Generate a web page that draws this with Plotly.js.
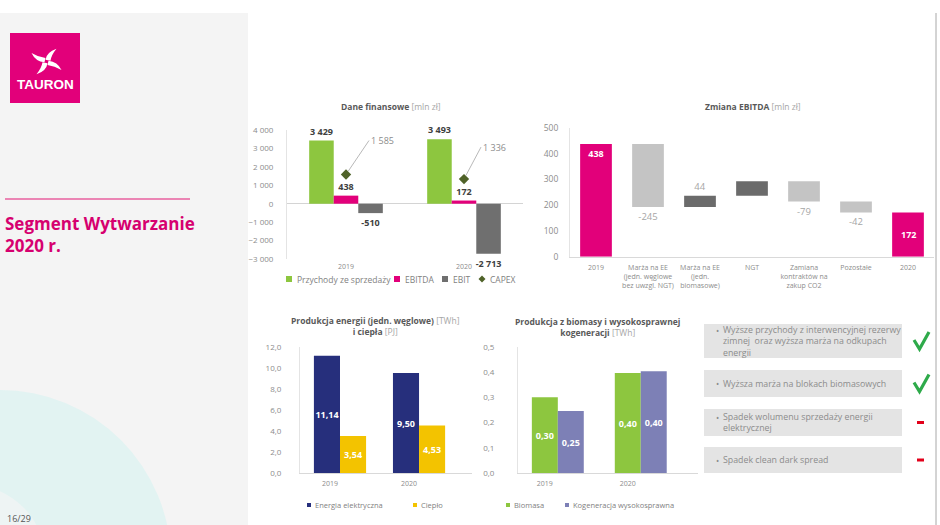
<!DOCTYPE html>
<html><head><meta charset="utf-8">
<script src="https://cdn.plot.ly/plotly-3.0.1.min.js"></script>
<style>html,body{margin:0;padding:0;background:#fff}#chart{width:940px;height:525px}</style>
</head><body><div id="chart"></div>
<script>
// ---------- DATA ----------
const finYears = ['2019', '2020'];
const finSeries = ['Przychody ze sprzedaży', 'EBITDA', 'EBIT'];
const finLegend = ['Przychody ze sprzedaży', 'EBITDA', 'EBIT', 'CAPEX'];
const revenue = [3429, 3493];
const ebitda = [438, 172];
const ebit = [-510, -2713];
const capex = [1585, 1336];

const ebitdaCats = ['2019', 'Marża na EE<br>(jedn. węglowe<br>bez uwzgl. NGT)', 'Marża na EE<br>(jedn.<br>biomasowe)', 'NGT', 'Zamiana<br>kontraktów na<br>zakup CO2', 'Pozostałe', '2020'];
const ebitdaMeasures = ['absolute', 'relative', 'relative', 'relative', 'relative', 'relative', 'total'];
const ebitdaValues = [438, -245, 44, 56, -79, -42, 172];
const ebitdaShowLabel = [true, true, true, false, true, true, true];

const prodYears = ['2019', '2020'];
const prodSeries = ['Energia elektryczna', 'Ciepło'];
const energy = [11.14, 9.50];
const heat = [3.54, 4.53];

const bioYears = ['2019', '2020'];
const bioSeries = ['Biomasa', 'Kogeneracja wysokosprawna'];
const biomass = [0.30, 0.396];
const cogen = [0.246, 0.403];

const notes = [
  'Wyższe przychody z interwencyjnej rezerwy<br>zimnej  oraz wyższa marża na odkupach<br>energii',
  'Wyższa marża na blokach biomasowych',
  'Spadek wolumenu sprzedaży energii<br>elektrycznej',
  'Spadek clean dark spread'
];
const noteSigns = ['plus', 'plus', 'minus', 'minus'];

// ---------- HELPERS ----------
const W = 940, H = 525;
const X = p => p / W, Y = p => 1 - p / H;
const shapes = [], annotations = [];
const FONT = 'Open Sans';
function rect(x0, y0, x1, y1, fill, layer) {
  shapes.push({type: 'rect', xref: 'paper', yref: 'paper', x0: X(x0), x1: X(x1), y0: Y(y1), y1: Y(y0),
    fillcolor: fill, line: {width: 0}, layer: layer || 'below'});
}
function circle(cx, cy, r, fill) {
  shapes.push({type: 'circle', xref: 'paper', yref: 'paper', x0: X(cx - r), x1: X(cx + r), y0: Y(cy + r), y1: Y(cy - r),
    fillcolor: fill, line: {width: 0}, layer: 'below'});
}
function line(x0, y0, x1, y1, color, width) {
  shapes.push({type: 'line', xref: 'paper', yref: 'paper', x0: X(x0), x1: X(x1), y0: Y(y0), y1: Y(y1),
    line: {color: color, width: width}, layer: 'above'});
}
function pathShape(d, fill, lineColor, lineWidth) {
  shapes.push({type: 'path', xref: 'paper', yref: 'paper', path: d, fillcolor: fill,
    line: {color: lineColor || 'rgba(0,0,0,0)', width: lineWidth || 0}, layer: 'above'});
}
function P(x, y) { return X(x).toFixed(5) + ',' + Y(y).toFixed(5); }
function text(x, y, t, size, color, xanchor, extra) {
  annotations.push(Object.assign({xref: 'paper', yref: 'paper', x: X(x), y: Y(y), text: t, showarrow: false,
    xanchor: xanchor || 'center', yanchor: 'middle', align: xanchor === 'left' ? 'left' : 'center',
    font: {family: FONT, size: size, color: color}}, extra || {}));
}
function fmtSpace(v) { return String(v).replace(/\B(?=(\d{3})+(?!\d))/g, ' '); }

// ---------- BACKGROUND / DECOR ----------
rect(0, 13, 248, 525, '#f4f4f4');
circle(0, 561, 171, '#e2f3f2');
circle(-30, 560, 75, '#eef4f4');
line(936, 13, 936, 525, '#a8a8a8', 1);
// logo
rect(10, 33, 80, 103, '#e2007a', 'above');
const cx = 46.5, cy = 61.5;
const blade = [[-1, -2], [0, -11], [10, -15], [5, -8], [4, -1]];
for (let k = 0; k < 4; k++) {
  const a = k * Math.PI / 2, c = Math.cos(a), s = Math.sin(a);
  const q = blade.map(([x, y]) => [cx + x * c - y * s, cy + (x * s + y * c) * 0.85]);
  const d = 'M' + P(...q[0]) + ' Q' + P(...q[1]) + ' ' + P(...q[2]) + ' Q' + P(...q[3]) + ' ' + P(...q[4]) + ' Z';
  pathShape(d, '#ffffff');
}
text(45, 85, '<b>TAURON</b>', 13.5, '#ffffff', 'center', {font: {family: 'Liberation Sans', size: 13.5, color: '#ffffff'}});
line(5, 199, 190, 199, '#e8609f', 1.3);
text(3, 234, '<b>Segment Wytwarzanie<br>2020 r.</b>', 17, '#d6006f', 'left');
text(5, 518, '16/29', 9, '#555555', 'left');

// ---------- TITLES ----------
const tCol = '#595959', bCol = '#a6a6a6';
text(391, 107, '<b>Dane finansowe</b> <span style="color:' + bCol + '">[mln zł]</span>', 8.5, tCol);
text(753, 106, '<b>Zmiana EBITDA</b> <span style="color:' + bCol + '">[mln zł]</span>', 8.5, tCol);
text(375, 325.5, '<b>Produkcja energii (jedn. węglowe)</b> <span style="color:' + bCol + '">[TWh]</span><br><b>i ciepła</b> <span style="color:' + bCol + '">[PJ]</span>', 8.5, tCol);
text(597, 326.5, '<b>Produkcja z biomasy i wysokosprawnej</b><br><b>kogeneracji</b> <span style="color:' + bCol + '">[TWh]</span>', 8.5, tCol);

// ---------- TRACES ----------
const traces = [];
const finColors = ['#8dc63f', '#e2007a', '#6f6f6f'];
const finVals = [revenue, ebitda, ebit];
const w1 = 0.208;
finVals.forEach((v, i) => traces.push({
  type: 'bar', x: finYears, y: v, name: finSeries[i], xaxis: 'x', yaxis: 'y',
  width: w1, offset: -1.5 * w1 + i * w1, marker: {color: finColors[i]},
  texttemplate: '<b>%{y:,.0f}</b>', textposition: 'outside', textangle: 0,
  textfont: {family: FONT, size: 9, color: '#404040'}, constraintext: 'none', cliponaxis: false
}));
const capexColor = '#4f6228';
traces.push({type: 'scatter', mode: 'markers', x: finYears, y: capex, name: 'CAPEX', xaxis: 'x', yaxis: 'y',
  marker: {symbol: 'diamond', size: 8, color: capexColor}, cliponaxis: false});
const capexOff = [[23, -34], [17, -32]];
capex.forEach((v, i) => annotations.push({xref: 'x', yref: 'y', x: i, y: v, text: fmtSpace(v),
  showarrow: true, arrowhead: 0, arrowwidth: 0.8, arrowcolor: '#a6a6a6', standoff: 4,
  ax: capexOff[i][0], ay: capexOff[i][1], xanchor: 'left', yanchor: 'middle',
  font: {family: FONT, size: 9, color: '#8c8c8c'}}));

// waterfall
const finalEbitda = ebitdaValues.slice(0, -1).reduce((a, b) => a + b, 0);
traces.push({
  type: 'waterfall', x: ebitdaCats, y: ebitdaValues, measure: ebitdaMeasures, xaxis: 'x2', yaxis: 'y2',
  texttemplate: ebitdaMeasures.map((m, i) => !ebitdaShowLabel[i] || m === 'total' ? '' : (m === 'absolute' ? '<b>%{final:.0f}</b>' : '%{delta:.0f}')),
  textposition: ebitdaMeasures.map((m, i) => !ebitdaShowLabel[i] || m === 'total' ? 'none' : (m === 'absolute' ? 'inside' : 'outside')),
  insidetextanchor: 'end', textangle: 0,
  insidetextfont: {family: FONT, size: 9, color: '#ffffff'},
  outsidetextfont: {family: FONT, size: 9.5, color: '#a6a6a6'},
  increasing: {marker: {color: '#6b6b6b'}}, decreasing: {marker: {color: '#c4c4c4'}}, totals: {marker: {color: '#e2007a'}},
  connector: {visible: false}, constraintext: 'none', cliponaxis: false
});
annotations.push({xref: 'x2', yref: 'y2', x: ebitdaCats.length - 1, y: finalEbitda / 2,
  text: '<b>' + finalEbitda + '</b>', showarrow: false, font: {family: FONT, size: 9, color: '#ffffff'}});

// production
const prodColors = ['#262f7c', '#f3c300'];
const w3 = 0.33;
[energy, heat].forEach((v, i) => traces.push({
  type: 'bar', x: prodYears, y: v, name: prodSeries[i], xaxis: 'x3', yaxis: 'y3',
  width: w3, offset: -w3 + i * w3, marker: {color: prodColors[i]},
  texttemplate: '<b>%{y:.2f}</b>', textposition: 'inside', insidetextanchor: 'middle', textangle: 0,
  textfont: {family: FONT, size: 9, color: '#ffffff'}, constraintext: 'none'
}));
// biomass
const bioColors = ['#8dc63f', '#7d80b6'];
const w4 = 0.313;
[biomass, cogen].forEach((v, i) => traces.push({
  type: 'bar', x: bioYears, y: v, name: bioSeries[i], xaxis: 'x4', yaxis: 'y4',
  width: w4, offset: -w4 + i * w4, marker: {color: bioColors[i]},
  texttemplate: '<b>%{y:.2f}</b>', textposition: 'inside', insidetextanchor: 'middle', textangle: 0,
  textfont: {family: FONT, size: 9, color: '#ffffff'}, constraintext: 'none'
}));

// ---------- LEGENDS (manual, compact) ----------
const legCol = '#7f7f7f';
function legSquare(x, y, s, color) { rect(x - s / 2, y - s / 2, x + s / 2, y + s / 2, color, 'above'); }
const leg1x = [289, 397, 445, 482];
finLegend.forEach((n, i) => {
  if (i < 3) legSquare(leg1x[i], 279, 6, finColors[i]);
  else pathShape('M' + P(leg1x[i], 275.5) + ' L' + P(leg1x[i] + 3.5, 279) + ' L' + P(leg1x[i], 282.5) + ' L' + P(leg1x[i] - 3.5, 279) + ' Z', capexColor);
  text(leg1x[i] + 6, 279, n, 8.5, legCol, 'left');
});
const leg3x = [309, 415];
prodSeries.forEach((n, i) => { legSquare(leg3x[i], 505, 4, prodColors[i]); text(leg3x[i] + 4, 505, n, 7.5, legCol, 'left'); });
const leg4x = [508, 567];
bioSeries.forEach((n, i) => { legSquare(leg4x[i], 505, 4, bioColors[i]); text(leg4x[i] + 4, 505, n, 7.5, legCol, 'left'); });

// ---------- NOTES BOXES ----------
const boxY = [[324, 358], [370, 397], [409, 436], [447, 473]];
notes.forEach((n, i) => {
  const [y0, y1] = boxY[i], ym = (y0 + y1) / 2;
  const nl = n.split('<br>').length;
  rect(704, y0, 902, y1, '#e4e4e4');
  text(717, ym - (nl - 1) * 5.5, '•', 8.5, '#8c8c8c', 'center');
  text(721, ym, n, 8.8, '#8c8c8c', 'left');
  if (noteSigns[i] === 'plus') {
    const b = ym - 9;
    pathShape('M' + P(914, b + 8) + ' L' + P(919.5, b + 17) + ' L' + P(929, b), 'rgba(0,0,0,0)', '#2eaa4a', 3.2);
  } else {
    rect(917, ym - 1.5, 924, ym + 1.5, '#e2001a', 'above');
  }
});

// ---------- LAYOUT ----------
const tickCol = '#8c8c8c';
const baseX = {type: 'category', showgrid: false, zeroline: false, ticks: '', fixedrange: true,
  tickfont: {family: FONT, size: 7, color: tickCol}};
const baseY = {showgrid: false, ticks: '', fixedrange: true, showline: true, linecolor: '#e4e4e4', linewidth: 1,
  tickfont: {family: FONT, size: 8, color: tickCol}};
const layout = {
  width: W, height: H, margin: {l: 0, r: 0, t: 0, b: 0}, autosize: false,
  paper_bgcolor: '#ffffff', plot_bgcolor: 'rgba(0,0,0,0)',
  font: {family: FONT}, showlegend: false, hovermode: false, separators: ', ',
  xaxis: Object.assign({}, baseX, {domain: [X(287), X(523)], anchor: 'y', range: [-0.5, 1.5], showline: false, ticklabelstandoff: 2}),
  yaxis: Object.assign({}, baseY, {domain: [Y(259), Y(130)], anchor: 'x', range: [-3000, 4000], dtick: 1000, tick0: 0,
    tickformat: ',.0f', zeroline: true, zerolinecolor: '#d4d4d4', zerolinewidth: 1, ticklabelstandoff: 11}),
  xaxis2: Object.assign({}, baseX, {domain: [X(570), X(934)], anchor: 'y2', range: [-0.5, 6.5], showline: true,
    linecolor: '#d9d9d9', ticklabelstandoff: 4}),
  yaxis2: Object.assign({}, baseY, {domain: [Y(256.7), Y(128)], anchor: 'x2', range: [0, 500], dtick: 100,
    zeroline: false, ticklabelstandoff: 9, tickfont: {family: FONT, size: 8.5, color: tickCol}}),
  xaxis3: Object.assign({}, baseX, {domain: [X(300), X(472)], anchor: 'y3', range: [-0.506, 1.67], showline: true,
    linecolor: '#d9d9d9', ticklabelstandoff: 3, ticklabelshift: -10}),
  yaxis3: Object.assign({}, baseY, {domain: [Y(473.3), Y(346.7)], anchor: 'x3', range: [0, 12], dtick: 2,
    tickformat: '.1f', zeroline: false, ticklabelstandoff: 16}),
  xaxis4: Object.assign({}, baseX, {domain: [X(518), X(698)], anchor: 'y4', range: [-0.48, 1.69], showline: true,
    linecolor: '#d9d9d9', ticklabelstandoff: 3, ticklabelshift: -13}),
  yaxis4: Object.assign({}, baseY, {domain: [Y(473.3), Y(346.7)], anchor: 'x4', range: [0, 0.5], dtick: 0.1,
    tickformat: '.1f', zeroline: false, ticklabelstandoff: 21}),
  waterfallgap: 0.39,
  shapes: shapes, annotations: annotations
};
Plotly.newPlot('chart', traces, layout, {staticPlot: true, displayModeBar: false});
</script>
</body></html>
